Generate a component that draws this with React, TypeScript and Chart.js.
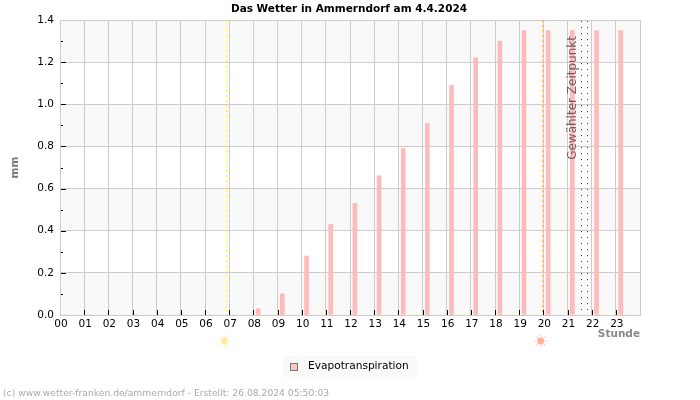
import React, { useEffect, useRef } from "react";
import { Chart, registerables } from "chart.js";

Chart.register(...registerables);

const hours = [0, 1, 2, 3, 4, 5, 6, 7, 8, 9, 10, 11, 12, 13, 14, 15, 16, 17, 18, 19, 20, 21, 22, 23];
const evapotranspiration = [0, 0, 0, 0, 0, 0, 0, 0, 0.03, 0.1, 0.28, 0.43, 0.53, 0.66, 0.79, 0.91, 1.09, 1.22, 1.3, 1.35, 1.35, 1.35, 1.35, 1.35];
const hourLabels = ["00", "01", "02", "03", "04", "05", "06", "07", "08", "09", "10", "11", "12", "13", "14", "15", "16", "17", "18", "19", "20", "21", "22", "23"];
const barOffsetHours = 0.2;
const sunriseHour = 6.86;
const sunsetHour = 19.94;
const selectedRange = [21.56, 21.82];
const FONT = "'DejaVu Sans', sans-serif";

function drawSun(ctx: CanvasRenderingContext2D, x: number, y: number, color: string) {
  ctx.save();
  ctx.fillStyle = color;
  ctx.strokeStyle = color;
  ctx.beginPath();
  ctx.arc(x, y, 3.4, 0, Math.PI * 2);
  ctx.fill();
  ctx.globalAlpha = 0.75;
  ctx.lineWidth = 1.1;
  for (let i = 0; i < 8; i++) {
    const a = (i * Math.PI) / 4;
    ctx.beginPath();
    ctx.moveTo(x + Math.cos(a) * 4.2, y + Math.sin(a) * 4.2);
    ctx.lineTo(x + Math.cos(a) * 6.2, y + Math.sin(a) * 6.2);
    ctx.stroke();
  }
  ctx.restore();
}

const decorations = {
  id: "decorations",
  afterLayout(chart: any) {
    chart.titleBlock.left = 0;
    chart.titleBlock.right = 698;
  },
  beforeDraw(chart: any) {
    const { ctx, chartArea: a, scales } = chart;
    const y = scales.y;
    ctx.save();
    ctx.fillStyle = "#f9f9f9";
    for (let v = 0; v < 1.39; v += 0.4) {
      const top = y.getPixelForValue(v + 0.2);
      const bot = y.getPixelForValue(v);
      ctx.fillRect(a.left, top, a.right - a.left, bot - top);
    }
    const top2 = y.getPixelForValue(1.4);
    ctx.fillRect(a.left, top2, a.right - a.left, y.getPixelForValue(1.2) - top2);
    ctx.restore();
  },
  afterDatasetsDraw(chart: any) {
    const { ctx, chartArea: a, scales } = chart;
    const y = scales.y;
    const x = scales.x;
    ctx.save();
    ctx.strokeStyle = "#000";
    ctx.lineWidth = 1;
    for (let i = 1; i < 14; i++) {
      const py = Math.round(y.getPixelForValue(i / 10)) + 0.5;
      ctx.beginPath();
      ctx.moveTo(a.left + 1, py);
      ctx.lineTo(a.left + (i % 2 === 0 ? 6 : 3), py);
      ctx.stroke();
    }
    hours.forEach((h) => {
      if (h === 0) return;
      const px = Math.round(x.getPixelForValue(h)) + 0.5;
      ctx.beginPath();
      ctx.moveTo(px, a.bottom - 5);
      ctx.lineTo(px, a.bottom);
      ctx.stroke();
    });
    ctx.lineWidth = 1;
    ctx.setLineDash([2, 3]);
    [
      [sunriseHour, "#ffee55"],
      [sunsetHour, "#ffbb55"],
    ].forEach(([h, c]: any) => {
      const px = Math.round(x.getPixelForValue(h)) + 0.5;
      ctx.strokeStyle = c;
      ctx.beginPath();
      ctx.moveTo(px, a.top);
      ctx.lineTo(px, a.bottom);
      ctx.stroke();
    });
    ctx.setLineDash([1, 5]);
    ctx.strokeStyle = "#444";
    selectedRange.forEach((h) => {
      const px = Math.round(x.getPixelForValue(h)) + 0.5;
      ctx.beginPath();
      ctx.moveTo(px, a.top + 1);
      ctx.lineTo(px, a.bottom);
      ctx.stroke();
    });
    ctx.setLineDash([]);
    ctx.save();
    ctx.translate(x.getPixelForValue(selectedRange[0]) - 8, y.getPixelForValue(1.03));
    ctx.rotate(-Math.PI / 2);
    ctx.font = `12px ${FONT}`;
    ctx.fillStyle = "rgba(70,70,70,0.8)";
    ctx.textAlign = "center";
    ctx.textBaseline = "middle";
    ctx.fillText("Gewählter Zeitpunkt", 0, 0);
    ctx.restore();
    drawSun(ctx, x.getPixelForValue(sunriseHour) - 1.2, 341, "#ffe9a0");
    drawSun(ctx, x.getPixelForValue(sunsetHour) - 1.2, 341, "#ffb09a");
    ctx.fillStyle = "#f9f9f9";
    ctx.fillRect(283, 356, 134, 21);
    ctx.fillStyle = "#ffc8c8";
    ctx.strokeStyle = "#777";
    ctx.fillRect(290.5, 363.5, 7, 7);
    ctx.strokeRect(290.5, 363.5, 7, 7);
    ctx.fillStyle = "#000";
    ctx.font = `10.6px ${FONT}`;
    ctx.textAlign = "left";
    ctx.textBaseline = "middle";
    ctx.fillText(chart.data.datasets[0].label, 308, 366.5);
    ctx.fillStyle = "#aaaaaa";
    ctx.font = `9.2px ${FONT}`;
    ctx.fillText("(c) www.wetter-franken.de/ammerndorf - Erstellt: 26.08.2024 05:50:03", 3, 393.5);
    ctx.restore();
  },
};

export default function App() {
  const ref = useRef<HTMLCanvasElement>(null);
  useEffect(() => {
    document.body.style.margin = "0";
    document.body.style.background = "#fff";
    const chart = new Chart(ref.current!, {
      type: "bar",
      data: {
        datasets: [
          {
            label: "Evapotranspiration",
            data: hours.map((h, i) => ({ x: h + barOffsetHours, y: evapotranspiration[i] })),
            backgroundColor: "#ffbbbb",
            borderWidth: 0,
            barThickness: 4,
          },
        ],
      },
      options: {
        animation: false,
        responsive: false,
        devicePixelRatio: 1,
        layout: { padding: { left: 0, right: 60, top: 0, bottom: 59 } },
        plugins: {
          legend: { display: false },
          tooltip: { enabled: false },
          title: {
            display: true,
            text: "Das Wetter in Ammerndorf am 4.4.2024",
            color: "#000",
            font: { family: FONT, size: 10.5, weight: "bold" },
            padding: { top: 3, bottom: 4.4 },
          },
        },
        scales: {
          x: {
            type: "linear",
            offset: false,
            min: 0,
            max: 24,
            afterFit: (s: any) => {
              s.height = 26;
            },
            afterBuildTicks: (s: any) => {
              s.ticks = [...hours, 24].map((value) => ({ value }));
            },
            grid: { color: "#cccccc", drawTicks: false, offset: false },
            border: { color: "#cccccc" },
            ticks: {
              autoSkip: false,
              maxRotation: 0,
              padding: 3,
              labelOffset: 1,
              color: "#000",
              font: { family: FONT, size: 10.5 },
              callback: (v: any) => hourLabels[v] ?? "",
            },
            title: {
              display: true,
              text: "Stunde",
              align: "end",
              color: "#888888",
              padding: 0,
              font: { family: FONT, size: 10.5, weight: "bold" },
            },
          },
          y: {
            min: 0,
            max: 1.4,
            afterFit: (s: any) => {
              s.width = 60;
            },
            grid: { color: "#cccccc", drawTicks: false },
            border: { color: "#cccccc" },
            ticks: {
              stepSize: 0.2,
              padding: 6,
              color: "#000",
              font: { family: FONT, size: 10.5 },
              callback: (v: any) => Number(v).toFixed(1),
            },
            title: {
              display: true,
              text: "mm",
              color: "#777777",
              padding: { top: 9, bottom: 0 },
              font: { family: FONT, size: 10.5, weight: "bold" },
            },
          },
        },
      } as any,
      plugins: [decorations],
    });
    return () => chart.destroy();
  }, []);
  return <canvas ref={ref} width={700} height={400} style={{ position: "fixed", left: 0, top: 0, display: "block" }} />;
}
